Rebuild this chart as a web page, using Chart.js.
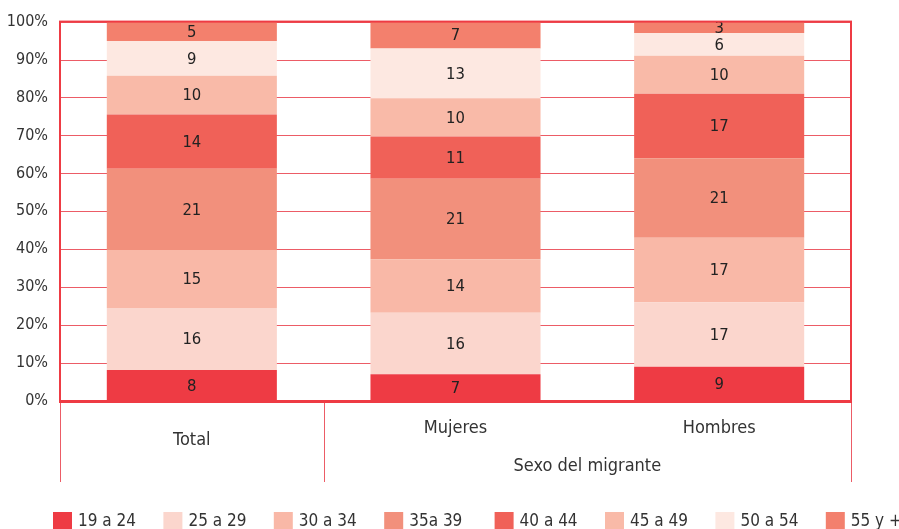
<!DOCTYPE html>
<html>
<head>
<meta charset="utf-8">
<script src="https://cdn.jsdelivr.net/npm/chart.js@4/dist/chart.umd.min.js"></script>
<style>
  html, body { margin: 0; padding: 0; background: #ffffff; }
  canvas { display: block; }
</style>
</head>
<body>
<canvas id="c" width="899" height="529"></canvas>
<script>
// ---- Data ----
const categories = ['Total', 'Mujeres', 'Hombres'];
const categoryGroups = ['', 'Sexo del migrante', 'Sexo del migrante'];
const ageGroups = ['19 a 24', '25 a 29', '30 a 34', '35a 39', '40 a 44', '45 a 49', '50 a 54', '55 y +'];
const age19to24 = [8, 7, 9];
const age25to29 = [16, 16, 17];
const age30to34 = [15, 14, 17];
const age35to39 = [21, 21, 21];
const age40to44 = [14, 11, 17];
const age45to49 = [10, 10, 10];
const age50to54 = [9, 13, 6];
const age55plus = [5, 7, 3];
const yTickValues = [0, 10, 20, 30, 40, 50, 60, 70, 80, 90, 100];

// ---- Styles ----
const FONT = "'DejaVu Sans Condensed', 'Liberation Sans Narrow', 'DejaVu Sans', sans-serif";
const RED = '#EE3B44';
const GRID = '#EC5C66';
const TEXT = '#333333';
const colors = ['#EE3B44', '#FBD6CD', '#F9B8A7', '#F2907C', '#F06158', '#F9BAA8', '#FDE8E1', '#F3806D'];

const seriesValues = [age19to24, age25to29, age30to34, age35to39, age40to44, age45to49, age50to54, age55plus];
const totals = categories.map((_, i) => seriesValues.reduce((s, arr) => s + arr[i], 0));

const datasets = ageGroups.map((label, k) => ({
  label: label,
  rawValues: seriesValues[k],
  data: seriesValues[k].map((v, i) => v / totals[i] * 100),
  backgroundColor: colors[k],
  borderWidth: 0,
  barPercentage: 1.0,
  categoryPercentage: 0.645
}));

const redGrid = {
  id: 'redGrid',
  beforeDatasetsDraw(chart) {
    const ctx = chart.ctx;
    const a = chart.chartArea;
    const ys = chart.scales.y;
    ctx.save();
    ctx.strokeStyle = GRID;
    ctx.lineWidth = 1;
    yTickValues.forEach(v => {
      const y = Math.round(ys.getPixelForValue(v)) + 0.5;
      ctx.beginPath();
      ctx.moveTo(a.left, y);
      ctx.lineTo(a.right, y);
      ctx.stroke();
    });
    ctx.restore();
  }
};

const segmentLabels = {
  id: 'segmentLabels',
  afterDatasetsDraw(chart) {
    const ctx = chart.ctx;
    ctx.save();
    ctx.font = '16.5px ' + FONT;
    ctx.fillStyle = '#222222';
    ctx.textAlign = 'center';
    ctx.textBaseline = 'middle';
    chart.data.datasets.forEach((ds, di) => {
      const meta = chart.getDatasetMeta(di);
      meta.data.forEach((el, i) => {
        const y = (el.y + el.base) / 2;
        ctx.fillText(String(ds.rawValues[i]), el.x, y + 1);
      });
    });
    ctx.restore();
  }
};

const frameAndAxis = {
  id: 'frameAndAxis',
  afterDraw(chart) {
    const ctx = chart.ctx;
    const a = chart.chartArea;
    const xs = chart.scales.x;
    ctx.save();
    // plot frame
    ctx.strokeStyle = RED;
    ctx.lineWidth = 2;
    ctx.strokeRect(a.left, a.top, a.right - a.left, a.bottom - a.top);
    ctx.lineWidth = 3;
    ctx.beginPath();
    ctx.moveTo(a.left - 1, a.bottom + 0.5);
    ctx.lineTo(a.right + 1, a.bottom + 0.5);
    ctx.stroke();

    // category table lines
    const lineBottom = 482;
    const boundaries = [a.left];
    for (let i = 1; i < categories.length; i++) {
      if (categoryGroups[i] !== categoryGroups[i - 1] || categoryGroups[i] === '') {
        boundaries.push((xs.getPixelForValue(i - 1) + xs.getPixelForValue(i)) / 2);
      }
    }
    boundaries.push(a.right);
    ctx.strokeStyle = GRID;
    ctx.lineWidth = 1;
    boundaries.forEach(x => {
      const px = Math.round(x) + 0.5;
      ctx.beginPath();
      ctx.moveTo(px, a.bottom + 2);
      ctx.lineTo(px, lineBottom);
      ctx.stroke();
    });

    // category labels
    ctx.font = '18px ' + FONT;
    ctx.fillStyle = TEXT;
    ctx.textAlign = 'center';
    ctx.textBaseline = 'middle';
    const groups = {};
    categories.forEach((c, i) => {
      const x = xs.getPixelForValue(i);
      if (categoryGroups[i] === '') {
        ctx.fillText(c, x, a.bottom + 39);
      } else {
        ctx.fillText(c, x, a.bottom + 27);
        (groups[categoryGroups[i]] = groups[categoryGroups[i]] || []).push(x);
      }
    });
    Object.keys(groups).forEach(g => {
      const xsArr = groups[g];
      const mid = (Math.min(...xsArr) + Math.max(...xsArr)) / 2;
      ctx.fillText(g, mid, a.bottom + 65);
    });

    // legend
    const startX = 53, step = 110.4, boxTop = 512, boxW = 19, boxH = 17;
    ctx.textAlign = 'left';
    ctx.font = '17px ' + FONT;
    chart.data.datasets.forEach((ds, k) => {
      const x = startX + k * step;
      ctx.fillStyle = ds.backgroundColor;
      ctx.fillRect(x, boxTop, boxW, boxH);
      ctx.fillStyle = TEXT;
      ctx.fillText(ds.label, x + 25, boxTop + 10);
    });
    ctx.restore();
  }
};

new Chart(document.getElementById('c'), {
  type: 'bar',
  data: { labels: categories, datasets: datasets },
  options: {
    responsive: false,
    animation: false,
    devicePixelRatio: 1,
    layout: { padding: { left: 0, right: 48, top: 21, bottom: 128 } },
    plugins: { legend: { display: false }, tooltip: { enabled: false } },
    scales: {
      x: { stacked: true, display: false },
      y: {
        stacked: true,
        min: 0,
        max: 100,
        afterBuildTicks(scale) { scale.ticks = yTickValues.map(v => ({ value: v })); },
        afterFit(scale) { scale.width = 60; },
        ticks: {
          callback: v => v + '%',
          color: TEXT,
          font: { family: FONT, size: 16 },
          padding: 12
        },
        grid: { display: false, drawTicks: false },
        border: { display: false }
      }
    }
  },
  plugins: [redGrid, segmentLabels, frameAndAxis]
});
</script>
</body>
</html>
